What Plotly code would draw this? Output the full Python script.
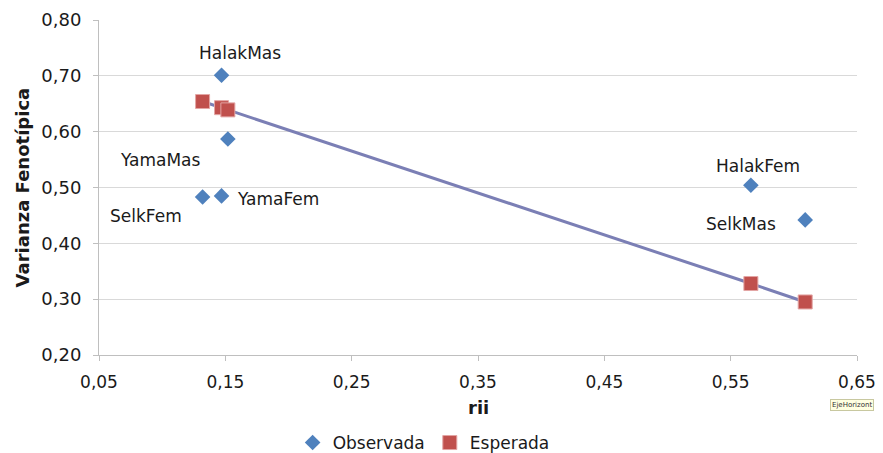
import plotly.graph_objects as go

# observed values (Observada)
obs_x = [0.147, 0.152, 0.132, 0.147, 0.566, 0.609]
obs_y = [0.701, 0.587, 0.483, 0.485, 0.504, 0.442]

# expected values (Esperada)
exp_x = [0.132, 0.147, 0.152, 0.566, 0.609]
exp_y = [0.654, 0.643, 0.639, 0.328, 0.295]

# point labels
label_text = ["HalakMas", "YamaMas", "SelkFem", "YamaFem", "HalakFem", "SelkMas"]
label_x = [0.162, 0.099, 0.087, 0.192, 0.572, 0.558]
label_y = [0.741, 0.549, 0.449, 0.479, 0.538, 0.434]

x_ticks = [0.05, 0.15, 0.25, 0.35, 0.45, 0.55, 0.65]
y_ticks = [0.20, 0.30, 0.40, 0.50, 0.60, 0.70, 0.80]

FONT = "DejaVu Sans"

fig = go.Figure()

# trend through the expected points
fig.add_trace(
    go.Scatter(
        x=exp_x,
        y=exp_y,
        mode="lines",
        line=dict(color="#7B7FB5", width=3),
        showlegend=False,
        hoverinfo="skip",
    )
)

fig.add_trace(
    go.Scatter(
        name="Observada",
        x=obs_x,
        y=obs_y,
        mode="markers",
        marker=dict(symbol="diamond", size=12, color="#4F81BD", line=dict(width=0)),
    )
)

fig.add_trace(
    go.Scatter(
        name="Esperada",
        x=exp_x,
        y=exp_y,
        mode="markers",
        marker=dict(symbol="square", size=14, color="#C0504D",
                    line=dict(color="#E3A5A4", width=1)),
    )
)

for t, lx, ly in zip(label_text, label_x, label_y):
    fig.add_annotation(
        x=lx, y=ly, text=t, showarrow=False,
        font=dict(family=FONT, size=17, color="#1a1a1a"),
    )

# axis titles
fig.add_annotation(
    x=-0.1004, y=0.5, xref="paper", yref="paper", textangle=-90,
    xanchor="center", yanchor="middle",
    text="<b>Varianza Fenotípica</b>", showarrow=False,
    font=dict(family=FONT, size=18, color="#1a1a1a"),
)
fig.add_annotation(
    x=0.5, y=-0.158, xref="paper", yref="paper",
    xanchor="center", yanchor="middle",
    text="<b>rii</b>", showarrow=False,
    font=dict(family=FONT, size=18, color="#1a1a1a"),
)

# little tooltip box at the bottom right
fig.add_annotation(
    x=1.022, y=-0.149, xref="paper", yref="paper",
    xanchor="right", yanchor="middle",
    text="EjeHorizont", showarrow=False,
    font=dict(family=FONT, size=7, color="#333333"),
    bgcolor="#FFFFE1", bordercolor="#C8C8A0", borderwidth=1,
)

# page body has an 8px margin, so the figure is shrunk by that amount
fig.update_layout(
    width=875,
    height=445,
    margin=dict(l=91, r=26, t=12, b=98),
    plot_bgcolor="white",
    paper_bgcolor="white",
    font=dict(family=FONT, size=17, color="#1a1a1a"),
    legend=dict(
        orientation="h",
        xref="container", yref="container",
        x=0.475, xanchor="center",
        y=0.0225, yanchor="middle",
        font=dict(family=FONT, size=17, color="#1a1a1a"),
        itemwidth=30,
        tracegroupgap=0,
    ),
    xaxis=dict(
        range=[0.05, 0.65],
        tickvals=x_ticks,
        ticktext=[f"{v:.2f}".replace(".", ",") for v in x_ticks],
        tickfont=dict(size=17),
        showgrid=False,
        showline=True,
        linecolor="#BFBFBF",
        ticks="outside",
        tickcolor="#BFBFBF",
        ticklen=5,
        ticklabelstandoff=7,
        zeroline=False,
        automargin=False,
    ),
    yaxis=dict(
        range=[0.20, 0.80],
        tickvals=y_ticks,
        ticktext=[f"{v:.2f}".replace(".", ",") for v in y_ticks],
        tickfont=dict(size=18),
        showgrid=True,
        gridcolor="#D9D9D9",
        showline=True,
        linecolor="#BFBFBF",
        ticks="outside",
        tickcolor="#BFBFBF",
        ticklen=5,
        ticklabelstandoff=8,
        zeroline=False,
        automargin=False,
    ),
)

fig.write_html("out.html")
